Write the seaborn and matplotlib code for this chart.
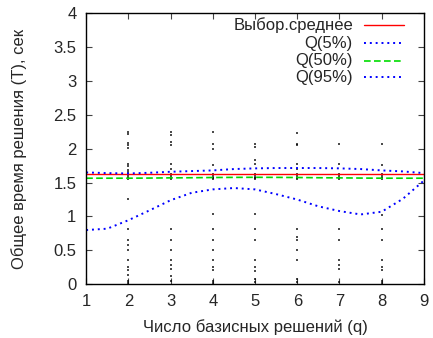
import pandas as pd
import matplotlib
matplotlib.use("Agg")
import matplotlib.pyplot as plt
import seaborn as sns

# Scatter of individual solution times per q
cluster = [1.55, 1.57, 1.59, 1.61, 1.63]
times_by_q = {
    2: [2.24, 2.21, 2.08, 2.06, 2.01, 1.78, 1.75, 1.68, 1.66, 1.26, 0.81, 0.65,
        0.58, 0.50, 0.36, 0.26, 0.21, 0.13, 0.05, 0.02],
    3: [2.24, 2.20, 2.10, 2.05, 1.77, 1.70, 0.81, 0.65, 0.50, 0.36, 0.28, 0.22,
        0.12, 0.05],
    4: [2.24, 2.07, 2.00, 1.76, 1.03, 0.81, 0.65, 0.50, 0.36, 0.26, 0.21, 0.05,
        0.02],
    5: [2.07, 2.02, 1.83, 1.77, 1.03, 0.81, 0.65, 0.36, 0.26, 0.20, 0.08, 0.03],
    6: [2.23, 2.07, 2.05, 1.77, 1.70, 0.81, 0.69, 0.65, 0.50, 0.36, 0.08, 0.03],
    7: [2.07, 1.77, 0.81, 0.65, 0.36, 0.28, 0.22, 0.04],
    8: [2.07, 1.76, 1.02, 0.81, 0.65, 0.36, 0.26, 0.21, 0.05, 0.02],
}

# Smooth statistic curves (read every 0.5 along q)
q_grid = [1, 1.5, 2, 2.5, 3, 3.5, 4, 4.5, 5, 5.5, 6, 6.5, 7, 7.5, 8, 8.5, 9]
mean_t = [1.62] * len(q_grid)
q50 = [1.565, 1.565, 1.565, 1.567, 1.57, 1.572, 1.575, 1.577, 1.578, 1.577,
       1.575, 1.572, 1.57, 1.567, 1.565, 1.565, 1.565]
q5 = [0.80, 0.82, 0.945, 1.09, 1.24, 1.35, 1.40, 1.42, 1.40, 1.33, 1.25, 1.15,
      1.08, 1.03, 1.07, 1.26, 1.53]
q95 = [1.65, 1.64, 1.635, 1.645, 1.66, 1.67, 1.68, 1.70, 1.71, 1.715, 1.715,
       1.715, 1.71, 1.70, 1.68, 1.665, 1.64]

series_labels = ["Выбор.среднее", "Q(5%)", "Q(50%)", "Q(95%)"]

rows = []
for q, vals in times_by_q.items():
    for v in vals + cluster:
        rows.append((q, v))
pts = pd.DataFrame(rows, columns=["q", "T"])
curves = pd.DataFrame({"q": q_grid, "mean": mean_t, "q5": q5, "q50": q50, "q95": q95})

sns.set_style("ticks")
plt.rcParams["font.family"] = ["Liberation Sans", "DejaVu Sans"]
plt.rcParams["xtick.direction"] = "in"
plt.rcParams["ytick.direction"] = "in"

fig = plt.figure(figsize=(4.33, 3.38), dpi=100)
ax = fig.add_axes([0.199, 0.159, 0.780, 0.802])

sns.scatterplot(data=pts, x="q", y="T", ax=ax, color="black", marker="s",
                s=1.1, linewidth=0, alpha=0.7, legend=False)

styles = [
    ("mean", "red", 1.0, "-"),
    ("q5", "blue", 1.4, (0, (1, 2))),
    ("q50", "#00dd00", 1.2, (0, (4, 2))),
    ("q95", "blue", 1.4, (0, (1, 2))),
]
for (col, c, lw, ls) in styles:
    sns.lineplot(data=curves, x="q", y=col, ax=ax, color=c, lw=lw,
                 linestyle=ls, legend=False)

# gnuplot-style key: right-aligned labels with samples on the right
key_y = [0.956, 0.890, 0.825, 0.763]
for lab, (col, c, lw, ls), ky in zip(series_labels, styles, key_y):
    ax.text(0.790, ky, lab, transform=ax.transAxes, ha="right", va="center",
            fontsize=12)
    ax.plot([0.822, 0.941], [ky, ky], transform=ax.transAxes, color=c, lw=lw,
            linestyle=ls)

ax.set_xlim(1, 9)
ax.set_ylim(0, 4)
ax.set_xticks(range(1, 10))
ax.set_yticks([0, 0.5, 1, 1.5, 2, 2.5, 3, 3.5, 4])
ax.set_yticklabels(["0", "0.5", "1", "1.5", "2", "2.5", "3", "3.5", "4"])
ax.tick_params(axis="both", which="major", length=4, width=0.8, labelsize=12,
               top=True, right=True, pad=7, color="#444444")
for s in ax.spines.values():
    s.set_linewidth(1.0)
    s.set_color("black")

ax.set_xlabel("Число базисных решений (q)", fontsize=12, labelpad=7)
ax.set_ylabel("Общее время решения (T), сек", fontsize=12, labelpad=19)

fig.savefig("out.png", dpi=100)
